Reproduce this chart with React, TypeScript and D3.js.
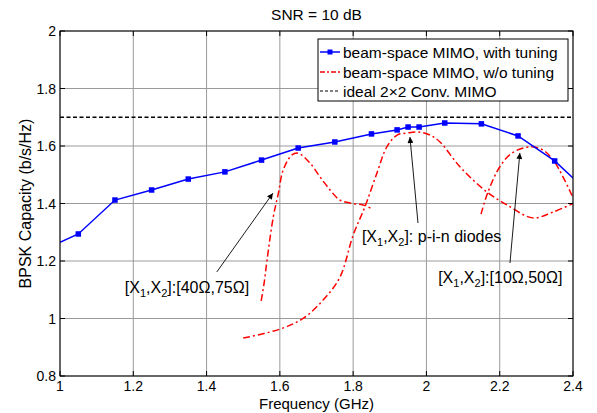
import React from "react";
import * as d3 from "d3";

// ---------- data ----------
const xTicks = [1, 1.2, 1.4, 1.6, 1.8, 2, 2.2, 2.4];
const yTicks = [0.8, 1, 1.2, 1.4, 1.6, 1.8, 2];
const xTickLabels = ["1", "1.2", "1.4", "1.6", "1.8", "2", "2.2", "2.4"];
const yTickLabels = ["0.8", "1", "1.2", "1.4", "1.6", "1.8", "2"];

const tuningFreq = [1, 1.05, 1.15, 1.25, 1.35, 1.45, 1.55, 1.65, 1.75, 1.85, 1.92, 1.95, 1.98, 2.05, 2.15, 2.25, 2.35, 2.4];
const tuningCap = [1.265, 1.294, 1.412, 1.447, 1.485, 1.51, 1.551, 1.593, 1.614, 1.642, 1.656, 1.666, 1.666, 1.68, 1.677, 1.635, 1.548, 1.489];

const res4075Freq = [1.549, 1.557, 1.565, 1.582, 1.596, 1.609, 1.633, 1.65, 1.682, 1.71, 1.737, 1.764, 1.8, 1.827, 1.852];
const res4075Cap = [1.061, 1.123, 1.203, 1.353, 1.436, 1.516, 1.569, 1.575, 1.541, 1.492, 1.447, 1.412, 1.4, 1.395, 1.381];

const pinFreq = [1.5, 1.6, 1.663, 1.718, 1.764, 1.8, 1.832, 1.865, 1.892, 1.92, 1.947, 1.977, 2.01, 2.037, 2.092, 2.165, 2.22, 2.29, 2.345, 2.4];
const pinCap = [0.932, 0.963, 1.0, 1.064, 1.144, 1.29, 1.388, 1.506, 1.597, 1.638, 1.645, 1.649, 1.638, 1.614, 1.527, 1.44, 1.395, 1.35, 1.37, 1.4];

const res1050Freq = [2.149, 2.168, 2.2, 2.234, 2.283, 2.318, 2.346, 2.373, 2.4];
const res1050Cap = [1.363, 1.44, 1.527, 1.576, 1.597, 1.586, 1.551, 1.492, 1.42];

const idealCap = 1.7;

const legendLabels = ["beam-space MIMO, with tuning", "beam-space MIMO, w/o tuning", "ideal 2\u00d72 Conv. MIMO"];

// annotation: text anchor (x,y) and arrow tail->head, in data units
const annX = [1.177, 1.824, 2.032];
const annY = [1.089, 1.266, 1.123];
const annTail = [[1.428, 1.162], [1.977, 1.332], [2.228, 1.193]];
const annHead = [[1.581, 1.436], [1.955, 1.631], [2.255, 1.576]];
const annRest = ["]:[40\u03a9,75\u03a9]", "]: p-i-n diodes", "]:[10\u03a9,50\u03a9]"];

// ---------- layout ----------
const W = 597, H = 413;
const L = 60, R = 573, T = 31, B = 376;
const FONT = "'Liberation Sans', Arial, Helvetica, sans-serif";

export default function App() {
  const x = d3.scaleLinear().domain([1, 2.4]).range([L, R]);
  const y = d3.scaleLinear().domain([0.8, 2]).range([B, T]);

  const line = d3.line<[number, number]>().x(d => x(d[0])).y(d => y(d[1]));
  const smooth = d3.line<[number, number]>().x(d => x(d[0])).y(d => y(d[1])).curve(d3.curveCatmullRom.alpha(0.5));

  const zip = (a: number[], b: number[]) => a.map((v, i) => [v, b[i]] as [number, number]);
  const tuning = zip(tuningFreq, tuningCap);
  const redCurves = [zip(res4075Freq, res4075Cap), zip(pinFreq, pinCap), zip(res1050Freq, res1050Cap)];

  const redDash = "7,3,2,3";
  const legX = 318, legY = 39, legW = 250, legH = 62;
  const rowY = [52, 72, 91];

  return (
    <svg width={W} height={H} style={{ position: "absolute", left: 0, top: 0, background: "#fff" }} fontFamily={FONT}>
      <defs>
        <clipPath id="plotclip"><rect x={L} y={T} width={R - L} height={B - T} /></clipPath>
        <marker id="arrow" viewBox="0 0 10 10" refX="10" refY="5" markerWidth="8" markerHeight="6" markerUnits="userSpaceOnUse" orient="auto">
          <path d="M0,0 L10,5 L0,10 z" fill="#000" />
        </marker>
      </defs>
      <rect x={0} y={0} width={W} height={H} fill="#fff" />
      {/* grid */}
      {xTicks.map((t, i) => (
        <line key={"gx" + i} x1={x(t)} x2={x(t)} y1={T} y2={B} stroke="#9a9a9a" strokeWidth={1} />
      ))}
      {yTicks.map((t, i) => (
        <line key={"gy" + i} x1={L} x2={R} y1={y(t)} y2={y(t)} stroke="#9a9a9a" strokeWidth={1} />
      ))}
      <g clipPath="url(#plotclip)">
        {/* ideal */}
        <line x1={L} x2={R} y1={y(idealCap)} y2={y(idealCap)} stroke="#000" strokeWidth={1.3} strokeDasharray="4,2.5" />
        {/* red curves */}
        {redCurves.map((c, i) => (
          <path key={"r" + i} d={smooth(c) || ""} fill="none" stroke="#ff0000" strokeWidth={1.5} strokeDasharray={redDash} />
        ))}
        {/* blue */}
        <path d={line(tuning) || ""} fill="none" stroke="#0000ff" strokeWidth={1.5} />
        {tuning.filter(d => d[0] > 1 && d[0] < 2.4).map((d, i) => (
          <rect key={"m" + i} x={x(d[0]) - 2.75} y={y(d[1]) - 2.75} width={5.5} height={5.5} fill="#0000ff" />
        ))}
      </g>
      {/* axes box */}
      <rect x={L} y={T} width={R - L} height={B - T} fill="none" stroke="#000" strokeWidth={1} />
      {xTicks.map((t, i) => (
        <g key={"tx" + i}>
          <line x1={x(t)} x2={x(t)} y1={B} y2={B - 5} stroke="#000" />
          <line x1={x(t)} x2={x(t)} y1={T} y2={T + 5} stroke="#000" />
          <text x={x(t)} y={391} fontSize={14} textAnchor="middle" fill="#000">{xTickLabels[i]}</text>
        </g>
      ))}
      {yTicks.map((t, i) => (
        <g key={"ty" + i}>
          <line x1={L} x2={L + 5} y1={y(t)} y2={y(t)} stroke="#000" />
          <line x1={R} x2={R - 5} y1={y(t)} y2={y(t)} stroke="#000" />
          <text x={56} y={y(t) + 5} fontSize={14} textAnchor="end" fill="#000">{yTickLabels[i]}</text>
        </g>
      ))}
      {/* titles */}
      <text x={(L + R) / 2} y={20} fontSize={15.5} textAnchor="middle">SNR = 10 dB</text>
      <text x={(L + R) / 2} y={408.5} fontSize={15} textAnchor="middle">Frequency (GHz)</text>
      <text transform={`translate(31,${(T + B) / 2}) rotate(-90)`} fontSize={16} textAnchor="middle">BPSK Capacity (b/s/Hz)</text>

      {/* annotations */}
      {annX.map((ax, i) => (
        <g key={"a" + i}>
          <line x1={x(annTail[i][0])} y1={y(annTail[i][1])} x2={x(annHead[i][0])} y2={y(annHead[i][1])} stroke="#000" strokeWidth={0.9} markerEnd="url(#arrow)" />
          <text x={x(ax)} y={y(annY[i])} fontSize={16} fill="#000">
            <tspan>[X</tspan>
            <tspan fontSize={11} dy={4}>1</tspan>
            <tspan dy={-4}>,X</tspan>
            <tspan fontSize={11} dy={4}>2</tspan>
            <tspan dy={-4}>{annRest[i]}</tspan>
          </text>
        </g>
      ))}

      {/* legend */}
      <rect x={legX} y={legY} width={legW} height={legH} fill="#fff" stroke="#000" strokeWidth={1} />
      <line x1={320} x2={340} y1={rowY[0]} y2={rowY[0]} stroke="#0000ff" strokeWidth={1.5} />
      <rect x={327.5} y={rowY[0] - 2.5} width={5} height={5} fill="#0000ff" />
      <line x1={320} x2={340} y1={rowY[1]} y2={rowY[1]} stroke="#ff0000" strokeWidth={1.5} strokeDasharray="5,2,2,2" />
      <line x1={320} x2={340} y1={rowY[2]} y2={rowY[2]} stroke="#000" strokeWidth={1.2} strokeDasharray="3,2" />
      {legendLabels.map((l, i) => (
        <text key={"l" + i} x={343} y={rowY[i] + 5.5} fontSize={15.5} fill="#000">{l}</text>
      ))}
    </svg>
  );
}
